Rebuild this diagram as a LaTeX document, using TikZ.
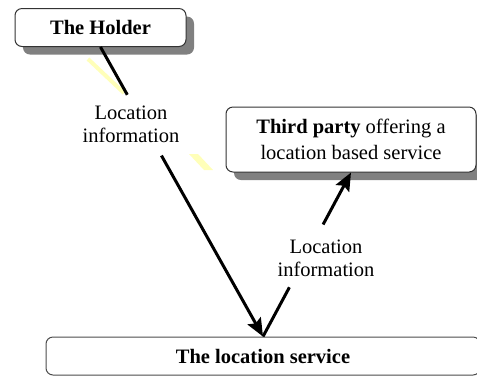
\documentclass[tikz,border=0pt]{standalone}
\usepackage{fontspec}
\setmainfont{Liberation Serif}
\usetikzlibrary{shadows,arrows.meta,calc}
\definecolor{paleyellow}{RGB}{255,255,185}

\begin{document}
\begin{tikzpicture}[x=0.5pt,y=-0.5pt,
		box/.style={draw=black!80,line width=0.5pt,rounded corners=3.5pt,fill=white,
			align=center,inner sep=0pt,font=\fontsize{10.25}{13}\selectfont},
		shadowbox/.style={box,drop shadow={shadow xshift=4pt,shadow yshift=-4pt,fill=black!50,opacity=1}},
		link/.style={line width=1.5pt},
		arrow/.style={link,-{Stealth[length=9pt,width=7.5pt,inset=1.5pt]}},
		info/.style={align=center,inner sep=0pt,font=\fontsize{10.25}{11.5}\selectfont}]
		\useasboundingbox (0,0) rectangle (477,377);

		% faint marks
		\draw[paleyellow,line width=2pt] (88,59) -- (124,93);
		\fill[paleyellow] (189,154) -- (198,154) -- (213,170) -- (204,170) -- cycle;

		% Boxes
		\node[shadowbox,minimum width=85.5pt,minimum height=19pt] (holder) at (100.5,27.5) {\bfseries The Holder};
		\node[shadowbox,minimum width=125pt,minimum height=32.5pt] (third) at (351,139.5)
			{{\bfseries Third party} offering a\\location based service};
		\node[box,draw=black!70,minimum width=217pt,minimum height=19pt] (service) at (263,356)
			{\bfseries The location service};

		% Labels
		\node[info] (info1) at (131,124) {Location\\information};
		\node[info] (info2) at (326,258) {Location\\information};

		% Connectors
		\draw[link] (holder.south) -- ($(holder.south)!0.165!(service.north)$);
		\draw[arrow] ($(holder.south)!0.375!(service.north)$) -- (service.north);
		\draw[link] (service.north) -- ($(service.north)!0.3!(third.south)$);
		\draw[arrow] ($(service.north)!0.683!(third.south)$) -- (third.south);
	\end{tikzpicture}
\end{document}
